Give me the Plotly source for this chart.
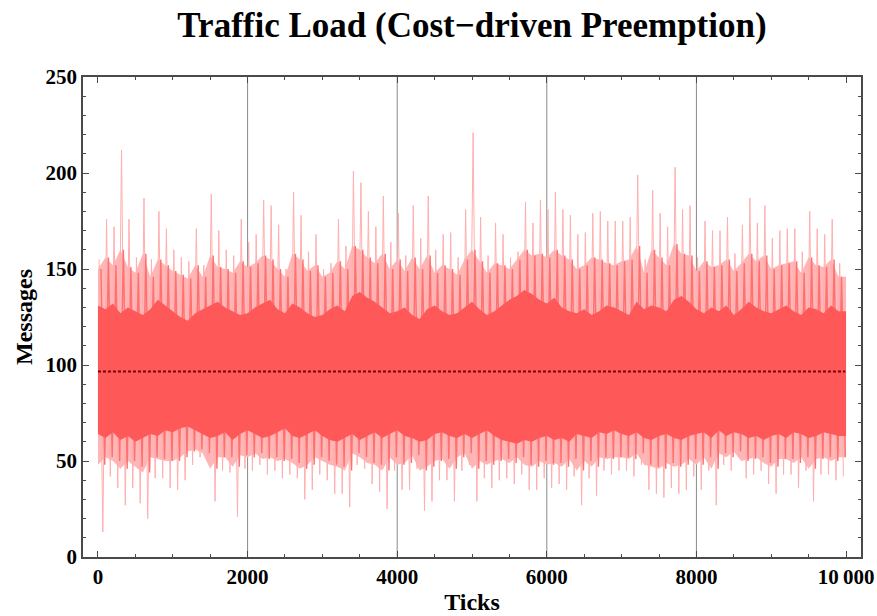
import plotly.graph_objects as go

# ---------------- data ----------------
TITLE = "Traffic Load (Cost\u2212driven Preemption)"
X_LABEL = "Ticks"
Y_LABEL = "Messages"

BIN = 100  # ticks per bin

# extreme spikes per 100-tick bin (upper / lower)
HI = [155, 176, 172, 212, 176, 156, 187, 155, 180, 171,
      160, 156, 154, 171, 152, 189, 170, 160, 157, 176,
      164, 168, 186, 183, 173, 150, 190, 178, 159, 168,
      150, 153, 176, 162, 201, 195, 180, 172, 188, 164,
      179, 157, 183, 166, 188, 160, 168, 169, 156, 181,
      221, 177, 157, 174, 168, 156, 159, 185, 174, 186,
      181, 190, 181, 178, 168, 169, 179, 180, 175, 175,
      175, 177, 199, 155, 191, 179, 172, 203, 181, 183,
      156, 175, 170, 170, 177, 158, 173, 187, 174, 183,
      166, 170, 171, 171, 159, 180, 171, 168, 176, 153]
LO = [13, 42, 36, 27, 36, 28, 20, 41, 41, 36,
      35, 40, 48, 52, 50, 29, 45, 44, 21, 46,
      45, 48, 43, 45, 41, 43, 41, 30, 35, 43,
      40, 33, 33, 26, 48, 46, 38, 34, 25, 45,
      35, 35, 46, 24, 29, 40, 40, 29, 45, 48,
      29, 41, 36, 40, 41, 38, 43, 35, 35, 41,
      36, 38, 35, 42, 27, 41, 32, 45, 43, 45,
      45, 42, 48, 35, 33, 31, 36, 33, 35, 42,
      35, 45, 27, 48, 45, 52, 41, 43, 45, 38,
      33, 43, 43, 36, 45, 29, 43, 43, 40, 42]

# typical reach of the dense pink zone per bin
MID_HI = [150, 156, 152, 160, 151, 148, 158, 146, 155, 152,
          149, 147, 145, 152, 146, 157, 151, 150, 148, 154,
          151, 153, 157, 155, 150, 146, 158, 155, 149, 152,
          146, 148, 154, 150, 162, 160, 156, 153, 158, 150,
          155, 149, 156, 150, 157, 148, 152, 150, 147, 155,
          160, 154, 148, 153, 152, 150, 155, 160, 157, 158,
          156, 160, 157, 155, 150, 152, 156, 155, 153, 152,
          154, 155, 162, 148, 160, 156, 152, 163, 158, 157,
          149, 154, 151, 152, 155, 149, 153, 158, 154, 157,
          150, 152, 153, 154, 148, 156, 152, 151, 155, 146]
MID_LO = [48, 52, 50, 46, 50, 47, 44, 52, 51, 50,
          50, 52, 55, 56, 54, 46, 52, 52, 47, 53,
          52, 54, 51, 52, 50, 51, 49, 46, 48, 52,
          50, 48, 47, 45, 54, 52, 49, 48, 45, 52,
          48, 49, 53, 45, 47, 50, 51, 46, 52, 54,
          46, 50, 48, 50, 51, 49, 52, 48, 47, 50,
          48, 49, 47, 51, 45, 50, 47, 52, 51, 52,
          52, 51, 54, 48, 47, 46, 49, 47, 48, 51,
          48, 52, 46, 54, 52, 55, 50, 51, 52, 49,
          47, 51, 51, 49, 52, 46, 51, 52, 50, 52]

# edges of the solid core band per bin
CORE_HI = [131, 129, 132, 127, 130, 128, 126, 129, 134, 131,
           128, 125, 123, 127, 129, 131, 133, 130, 128, 126,
           127, 130, 132, 134, 129, 127, 132, 130, 127, 125,
           126, 129, 131, 128, 136, 138, 135, 133, 130, 127,
           128, 130, 126, 124, 129, 131, 128, 126, 127, 130,
           133, 129, 126, 128, 131, 134, 136, 139, 137, 134,
           132, 135, 130, 128, 127, 129, 126, 128, 131, 130,
           128, 126, 133, 129, 131, 130, 128, 134, 136, 133,
           129, 127, 130, 128, 131, 126, 129, 133, 130, 128,
           127, 129, 131, 128, 126, 130, 129, 127, 131, 128]
CORE_LO = [64, 62, 65, 61, 63, 60, 62, 64, 63, 66,
           65, 67, 68, 66, 64, 62, 63, 65, 61, 64,
           66, 64, 62, 63, 65, 67, 63, 62, 64, 66,
           63, 61, 60, 62, 64, 61, 63, 65, 62, 64,
           66, 63, 62, 60, 61, 64, 65, 63, 62, 64,
           62, 64, 66, 63, 61, 60, 59, 61, 60, 62,
           63, 61, 62, 60, 64, 63, 62, 65, 64, 66,
           64, 63, 65, 62, 61, 63, 64, 62, 61, 63,
           64, 65, 62, 66, 63, 65, 64, 62, 63, 61,
           63, 64, 62, 65, 64, 62, 63, 65, 64, 63]

MEAN = 96.6
MEAN_SPAN = [0, 9990]

X_TICKS = [0, 2000, 4000, 6000, 8000, 10000]
X_TICK_TEXT = ["0", "2000", "4000", "6000", "8000", "10\u2009000"]
GRID_X = [2000, 4000, 6000, 8000]
Y_TICKS = [0, 50, 100, 150, 200, 250]

# ---------------- build figure ----------------
FONT = "Liberation Serif"
FRAME = "#4a4a4a"
N = len(HI)
edge_x = [i * BIN for i in range(N)] + [N * BIN]


def band(upper, lower):
    top = upper + [upper[-1]]
    bot = lower + [lower[-1]]
    return edge_x + edge_x[::-1], top + bot[::-1]


def zigzag(upper, lower, off_a, off_b):
    xs, ys = [], []
    for i in range(N):
        xs += [i * BIN + off_a, i * BIN + off_b]
        ys += [upper[i], lower[i]]
    return xs, ys


fig = go.Figure()
bx, by = band(MID_HI, MID_LO)
fig.add_trace(go.Scatter(x=bx, y=by, fill="toself", mode="lines", line=dict(width=0),
                         fillcolor="rgb(255,182,182)", hoverinfo="skip", showlegend=False))
zx, zy = zigzag(HI, LO, 15, 65)
fig.add_trace(go.Scatter(x=zx, y=zy, mode="lines",
                         line=dict(color="rgb(255,175,175)", width=1, simplify=False),
                         showlegend=False))
zx, zy = zigzag(MID_HI, MID_LO, 40, 90)
fig.add_trace(go.Scatter(x=zx, y=zy, mode="lines",
                         line=dict(color="rgb(255,112,112)", width=1.4, simplify=False),
                         showlegend=False))
bx, by = band(CORE_HI, CORE_LO)
fig.add_trace(go.Scatter(x=bx, y=by, fill="toself", mode="lines", line=dict(width=0),
                         fillcolor="rgb(255,88,88)", hoverinfo="skip", showlegend=False))
fig.add_trace(go.Scatter(x=MEAN_SPAN, y=[MEAN, MEAN], mode="lines",
                         line=dict(color="rgb(120,0,0)", width=2, dash="3px,2px"),
                         showlegend=False))

for gx in GRID_X:
    fig.add_shape(type="line", xref="x", yref="paper", x0=gx, x1=gx, y0=0, y1=1,
                  line=dict(color="#8a8a8a", width=1), layer="below")

axis_common = dict(
    showgrid=False, zeroline=False, showline=True, linecolor=FRAME, linewidth=1.5,
    mirror="allticks", ticks="inside", tickcolor=FRAME, tickwidth=1,
    tickfont=dict(family=FONT, size=21, color="black", weight="bold"),
)

fig.update_xaxes(range=[-200, 10200], tickvals=X_TICKS, ticktext=X_TICK_TEXT,
                 ticklen=6, minor=dict(dtick=500, ticks="inside", ticklen=3.5,
                                       tickcolor=FRAME, showgrid=False),
                 title=dict(text=X_LABEL, standoff=5,
                            font=dict(family=FONT, size=24, color="black", weight="bold")),
                 **axis_common)
fig.update_yaxes(range=[0, 250], tickvals=Y_TICKS, ticklen=6,
                 minor=dict(dtick=10, ticks="inside", ticklen=3.5,
                            tickcolor=FRAME, showgrid=False),
                 title=dict(text=Y_LABEL, standoff=6,
                            font=dict(family=FONT, size=24, color="black", weight="bold")),
                 **axis_common)

fig.update_layout(
    width=877, height=616,
    margin=dict(l=83, r=16, t=77, b=59, autoexpand=False),
    paper_bgcolor="white", plot_bgcolor="white",
    title=dict(text=TITLE, x=0.5, xref="paper", y=1 - 25 / 616, yref="container",
               yanchor="middle",
               font=dict(family=FONT, size=35, color="black", weight="bold")),
    showlegend=False,
)

fig.write_html("out.html")
